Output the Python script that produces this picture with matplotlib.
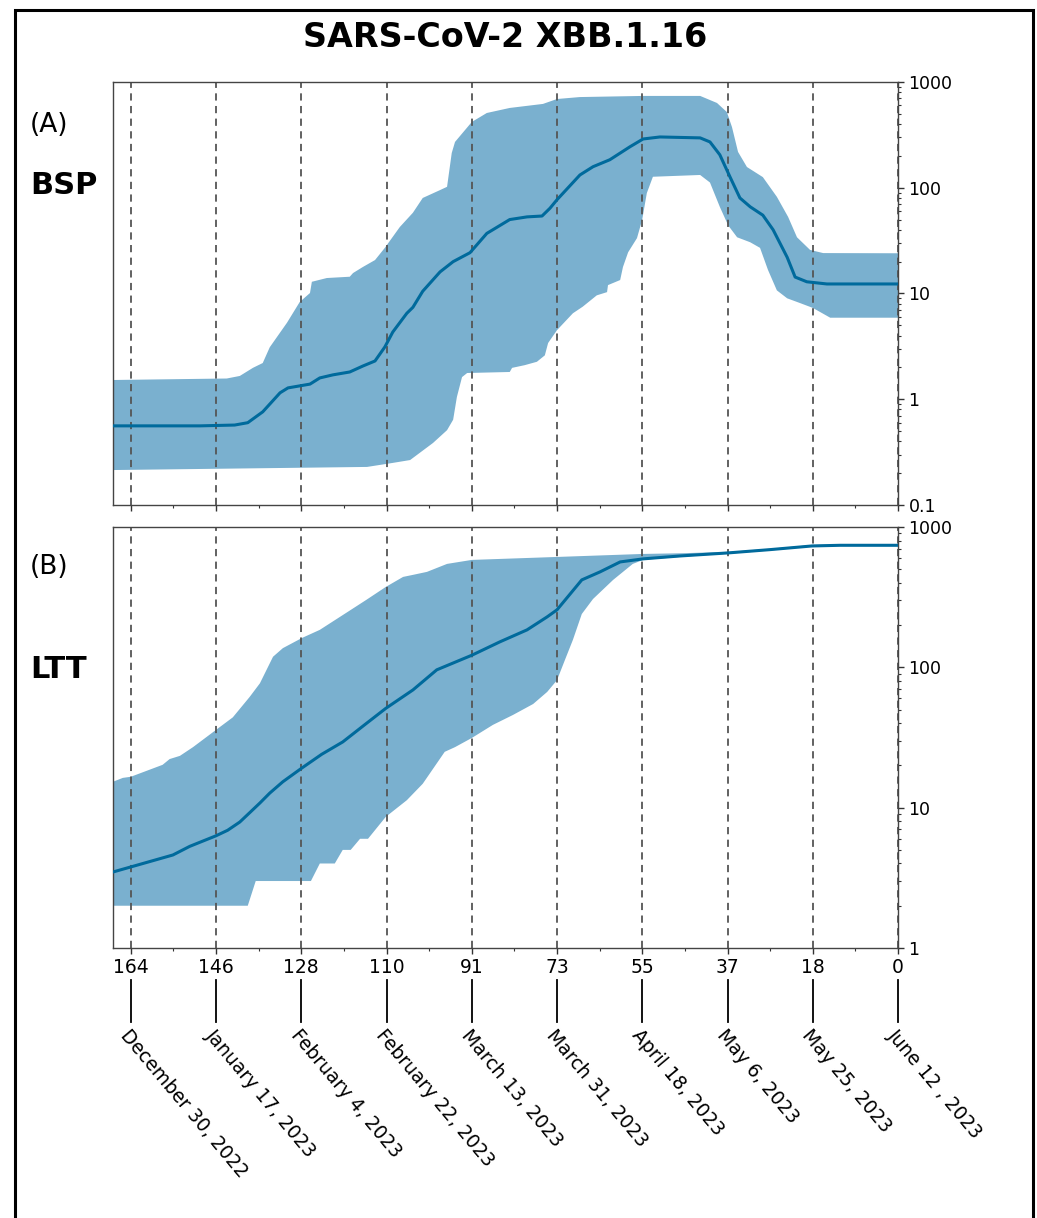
import numpy as np
import matplotlib.pyplot as plt
from matplotlib.patches import Rectangle
from matplotlib.ticker import FuncFormatter, NullFormatter

# days before present (June 12, 2023)
tick_days = np.linspace(164, 0, 10)
tick_labels = ["164", "146", "128", "110", "91", "73", "55", "37", "18", "0"]
date_labels = ["December 30, 2022", "January 17, 2023", "February 4, 2023",
               "February 22, 2023", "March 13, 2023", "March 31, 2023",
               "April 18, 2023", "May 6, 2023", "May 25, 2023", "June 12 , 2023"]

# Bayesian skyline plot: median and 95% HPD bounds
bsp_med_days = [167.8, 149.2, 141.8, 139.0, 135.8, 132.1, 130.4, 125.7, 123.6, 120.8,
                117.2, 114.4, 111.8, 109.7, 108.0, 106.5, 105.0, 103.7, 101.6, 97.9,
                95.1, 91.5, 87.9, 83.0, 79.3, 76.1, 74.4, 72.9, 68.0, 65.2,
                61.6, 57.3, 54.5, 50.9, 42.3, 40.2, 38.1, 35.9, 33.8, 31.6,
                28.9, 26.7, 23.7, 22.0, 19.5, 15.2, 0]
bsp_med = [0.56, 0.56, 0.57, 0.60, 0.76, 1.15, 1.28, 1.39, 1.59, 1.70,
           1.81, 2.06, 2.30, 3.12, 4.32, 5.3, 6.5, 7.4, 10.5, 16,
           20, 24.3, 37, 50, 53, 54, 64, 77, 132, 158,
           184, 244, 289, 302, 296, 271, 205, 126, 80, 66,
           55, 40, 22, 14.3, 12.9, 12.3, 12.3]

bsp_up_days = [167.8, 143.5, 140.7, 137.9, 135.8, 134.3, 130.6, 127.9, 125.7,
               125.3, 122.1, 117.2, 116.5, 114.4, 111.8, 109.7, 106.5, 103.7, 101.6,
               97.9, 96.4, 95.4, 94.7, 91.1, 87.9, 83.0, 75.9, 72.9, 68.0,
               54.5, 42.3, 38.7, 36.6, 35.5, 34.2, 32.3, 28.9, 25.9, 23.5,
               21.6, 18.8, 16.0, 0]
bsp_up = [1.52, 1.57, 1.66, 1.98, 2.2, 3.1, 5.3, 8.3, 10.1,
          12.9, 14, 14.4, 15.6, 17.8, 20.7, 27, 42.5, 58, 80,
          95, 102, 213, 271, 419, 509, 568, 620, 690, 720,
          738, 738, 633, 520, 375, 218, 157, 126, 82, 53,
          34, 25.8, 24.1, 24]

bsp_lo_days = [167.8, 113.5, 108.0, 104.3, 99.4, 96.4, 95.1, 94.3, 93.2, 92.1,
               83.0, 82.5, 79.8, 77.2, 75.5, 74.8, 72.9, 69.5, 67.4, 64.4,
               62.2, 62.0, 59.4, 58.8, 57.7, 55.8, 54.7, 53.7, 52.4, 42.3,
               40.2, 38.1, 36.3, 34.4, 31.6, 29.5, 27.8, 25.9, 23.7, 20.9,
               18.2, 14.5, 0]
bsp_lo = [0.214, 0.229, 0.25, 0.266, 0.386, 0.51, 0.64, 1.05, 1.62, 1.77,
          1.81, 1.98, 2.1, 2.26, 2.6, 3.4, 4.5, 6.5, 7.5, 9.6,
          10.3, 12, 13.4, 17.8, 24.5, 33.4, 49.6, 89, 127, 132,
          112, 66, 44, 34, 30.5, 27, 16.7, 10.7, 9.0, 8.1,
          7.3, 5.9, 5.9]

# lineages through time
ltt_med_days = [167.8, 164.0, 155.0, 151.4, 145.8, 143.3, 140.7, 138.6, 136.4, 134.3,
                131.5, 127.4, 123.2, 118.7, 114.0, 109.5, 103.7, 98.6, 91.1, 85.1,
                79.3, 75.0, 72.9, 70.1, 67.6, 63.7, 59.4, 54.5, 46.6, 36.3,
                27.4, 18.4, 12.4, 0]
ltt_med = [3.48, 3.78, 4.6, 5.3, 6.3, 6.9, 7.9, 9.2, 10.8, 12.7,
           15.3, 19.2, 24, 29.4, 39, 51, 69, 96, 122, 152,
           185, 229, 257, 333, 420, 479, 564, 593, 622, 654,
           690, 733, 741, 741]

ltt_up_days = [167.8, 165.7, 164.0, 157.2, 155.7, 153.5, 150.7, 145.8, 142.2, 138.6,
               136.4, 133.6, 131.5, 127.4, 123.6, 118.0, 113.7, 109.5, 105.8, 103.7,
               100.7, 96.4, 91.1, 72.9, 54.5, 46.6, 36.3, 27.4, 18.4, 12.4, 0]
ltt_up = [15.3, 16.3, 16.6, 20.2, 22.2, 23.4, 27, 35.8, 44, 61.5,
          77, 119, 137, 162, 185, 244, 302, 374, 441, 456,
          479, 546, 583, 612, 643, 650, 665, 700, 745, 750, 750]

ltt_lo_days = [167.8, 139.0, 137.3, 125.5, 123.6, 120.4, 118.7, 117.0, 115.0, 113.3,
               109.5, 105.0, 101.6, 96.9, 94.7, 91.1, 86.6, 82.3, 78.0, 75.0,
               72.9, 71.2, 69.5, 67.6, 65.2, 60.9, 56.7, 54.5, 46.6, 36.3,
               27.4, 18.4, 12.4, 0]
ltt_lo = [2, 2, 3, 3, 4, 4, 5, 5, 6, 6,
          8.6, 11.3, 14.8, 25, 27, 31.4, 38.9, 45.8, 54.8, 66.8,
          81, 113, 157, 240, 307, 420, 546, 583, 612, 645,
          680, 725, 735, 735]

fill_color = "#7ab0cf"
line_color = "#006a9c"

fig = plt.figure(figsize=(10.37, 12.18), dpi=100)
axA = fig.add_axes([0.109, 0.5854, 0.757, 0.3473])
axB = fig.add_axes([0.109, 0.2217, 0.757, 0.3456], sharex=axA)

panels = [
    (axA, bsp_med_days, bsp_med, bsp_up_days, bsp_up, bsp_lo_days, bsp_lo, (0.1, 1000)),
    (axB, ltt_med_days, ltt_med, ltt_up_days, ltt_up, ltt_lo_days, ltt_lo, (1, 1000)),
]
for ax, md, mv, ud, uv, ld, lv, ylim in panels:
    xs = np.concatenate([ud, ld[::-1]])
    ys = np.concatenate([uv, lv[::-1]])
    ax.fill(xs, ys, color=fill_color, lw=0, zorder=1)
    ax.plot(md, mv, color=line_color, lw=2.2, zorder=3)
    for t in tick_days:
        ax.axvline(t, color="#555555", lw=1.3, ls=(0, (4, 3)), zorder=2)
    ax.set_yscale("log")
    ax.set_ylim(*ylim)
    ax.yaxis.tick_right()
    ax.yaxis.set_major_formatter(FuncFormatter(lambda v, p: f"{v:g}"))
    ax.yaxis.set_minor_formatter(NullFormatter())
    ax.tick_params(axis="y", which="major", length=4, width=1, labelsize=12.5, color="#333333")
    ax.tick_params(axis="y", which="minor", length=2.5, width=0.8, color="#333333")
    ax.tick_params(axis="x", which="major", length=4, width=1, labelsize=13.5, color="#333333")
    ax.tick_params(axis="x", which="minor", length=2.5, width=0.8, color="#333333")
    for s in ax.spines.values():
        s.set_color("#444444")
        s.set_linewidth(1.0)

axA.set_xlim(167.8, 0)
axB.set_xticks(tick_days)
axB.set_xticklabels(tick_labels)
axB.set_xticks((tick_days[:-1] + tick_days[1:]) / 2, minor=True)
axA.tick_params(labelbottom=False)

# connectors and calendar dates under the day axis
trans = axB.get_xaxis_transform()
for t, lab in zip(tick_days, date_labels):
    axB.plot([t, t], [-0.076, -0.176], color="black", lw=1.3, transform=trans, clip_on=False)
    axB.text(t, -0.186, lab, transform=trans, rotation=-50, rotation_mode="anchor",
             ha="left", va="top", fontsize=13.5)

fig.text(0.487, 0.9696, "SARS-CoV-2 XBB.1.16", ha="center", va="center",
         fontsize=24, fontweight="bold")
fig.text(0.0289, 0.8974, "(A)", ha="left", va="center", fontsize=19)
fig.text(0.0289, 0.8473, "BSP", ha="left", va="center", fontsize=22, fontweight="bold")
fig.text(0.0289, 0.5345, "(B)", ha="left", va="center", fontsize=19)
fig.text(0.0289, 0.4500, "LTT", ha="left", va="center", fontsize=22, fontweight="bold")

fig.patches.append(Rectangle((15 / 1037, -0.05), (1033 - 15) / 1037, 1.0418,
                             transform=fig.transFigure, fill=False, edgecolor="black",
                             lw=2.2, clip_on=False))

fig.savefig("out.png", dpi=100)
